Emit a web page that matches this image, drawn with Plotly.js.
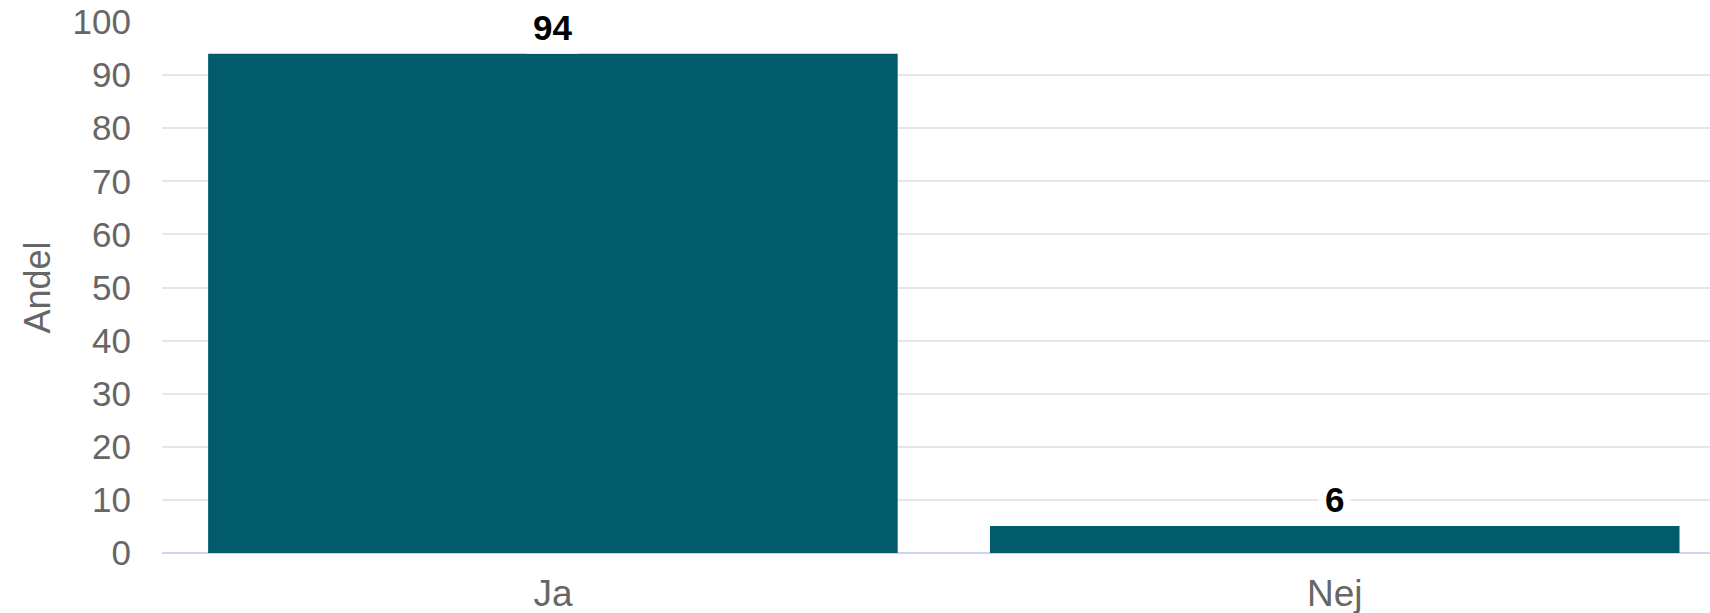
<!DOCTYPE html>
<html>
<head>
<meta charset="utf-8">
<script src="https://cdn.plot.ly/plotly-3.0.1.min.js"></script>
<style>html,body{margin:0;padding:0;background:#fff;}#chart{width:1710px;height:613px;}</style>
</head>
<body>
<div id="chart"></div>
<script>
var categories = ["Ja", "Nej"];
var values = [94.0, 5.1];
var valueLabels = ["94", "6"];
var yTicks = [0, 10, 20, 30, 40, 50, 60, 70, 80, 90, 100];

var trace = {
  type: "bar",
  x: categories,
  y: values,
  width: 0.882,
  marker: {color: "#015b6a"},
  hoverinfo: "none"
};

var annotations = categories.map(function (c, i) {
  return {
    x: c, y: values[i], xref: "x", yref: "y",
    text: valueLabels[i], showarrow: false,
    yanchor: "bottom", xanchor: "center",
    bgcolor: "#ffffff", borderpad: 6,
    font: {family: "Liberation Sans, Arial, sans-serif", size: 35, color: "#000000", weight: "bold"}
  };
});

var layout = {
  width: 1710, height: 613,
  margin: {l: 162, r: 0, t: 22, b: 60},
  paper_bgcolor: "#ffffff", plot_bgcolor: "#ffffff",
  showlegend: false,
  font: {family: "Liberation Sans, Arial, sans-serif", color: "#666666"},
  xaxis: {
    type: "category",
    range: [-0.5, 1.48],
    showgrid: false, zeroline: false,
    showline: false,
    ticks: "", ticklabelstandoff: 15,
    tickfont: {size: 37, color: "#666666"}
  },
  yaxis: {
    range: [0, 100],
    tickvals: yTicks,
    ticktext: yTicks.map(String),
    showgrid: true, gridcolor: "#e6e6e6", gridwidth: 2,
    zeroline: true, zerolinecolor: "#ccd6eb", zerolinewidth: 2,
    showline: false, ticks: "",
    ticklabelstandoff: 30,
    tickfont: {size: 35, color: "#666666"},
    title: {text: "Andel", font: {size: 36, color: "#666666"}, standoff: 10}
  },
  annotations: annotations
};

Plotly.newPlot("chart", [trace], layout, {displayModeBar: false, staticPlot: true});
</script>
</body>
</html>
